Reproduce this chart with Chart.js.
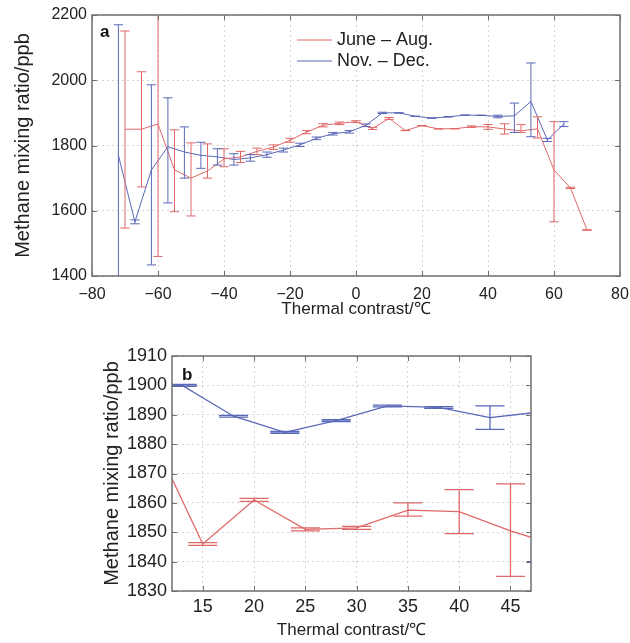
<!DOCTYPE html>
<html><head><meta charset="utf-8">
<script src="https://cdn.jsdelivr.net/npm/chart.js@4"></script>
<style>
html,body{margin:0;padding:0;background:#fff;width:630px;height:643px;overflow:hidden}
#ca{position:absolute;left:0;top:0}
#cb{position:absolute;left:0;top:325px}
</style></head><body>
<canvas id="ca" width="630" height="325"></canvas>
<canvas id="cb" width="630" height="318"></canvas>
<script>
// ---- data ----
const seriesNames = ['June \u2013 Aug.', 'Nov. \u2013 Dec.'];
const redX = [-70,-65,-60,-55,-50,-45,-40,-35,-30,-25,-20,-15,-10,-5,0,5,10,15,20,25,30,35,40,45,50,55,60,65,70];
const redY = [1850,1850,1866,1725,1700,1722,1759,1765,1782,1795,1816,1841,1862,1868,1873,1852,1883,1846,1861,1851,1851.5,1857.5,1857,1850.5,1845,1851,1725,1670,1541];
const redLo = [1547,1673,1460,1597,1584,1700,1735,1748,1772,1788,1810,1836,1857,1864,1870,1849,1880,1845.5,1860.5,1850.5,1851,1855.5,1849.5,1835,1840,1823,1566,1668,1540];
const redHi = [2151,2026,2210,1848,1808,1805,1790,1782,1792,1802,1822,1846,1867,1872,1876,1855,1886,1846.5,1861.5,1851.5,1852,1860,1864.5,1866.5,1864,1888,1873,1672,1542];
const blueX = [-72,-67,-62,-57,-52,-47,-42,-37,-32,-27,-22,-17,-12,-7,-2,3,8,13,18,23,28,33,38,43,48,53,58,63];
const blueY = [1770,1566,1725,1796,1780,1770,1765,1757,1762,1772,1786,1802,1822,1836,1842,1862,1900,1900,1889.5,1884,1888,1893,1892.5,1889,1891,1935,1817,1866];
const blueLo = [1300,1560,1434,1624,1700,1730,1740,1740,1752,1764,1780,1797,1818,1832,1838,1858,1898,1899.7,1889.2,1883.7,1887.7,1892.7,1892.2,1885,1840,1827,1812,1858];
const blueHi = [2170,1572,1986,1946,1857,1810,1790,1775,1772,1780,1792,1807,1826,1840,1846,1866,1902,1900.3,1889.8,1884.3,1888.3,1893.3,1892.8,1893,1930,2053,1822,1873];
const aXTicks = [-80,-60,-40,-20,0,20,40,60,80];
const aYTicks = [1400,1600,1800,2000,2200];
const bXTicks = [15,20,25,30,35,40,45];
const bYTicks = [1830,1840,1850,1860,1870,1880,1890,1900,1910];

const RED = '#e06868';
const BLUE = '#5a68b8';
const FRAME = '#6f6f6f';
const FONT = "'Liberation Sans', Arial, sans-serif";

function pts(xs, ys){ return xs.map((x,i)=>({x:x, y:ys[i]})); }
function fmt(v){ return v < 0 ? '\u2212' + Math.abs(v) : String(v); }

const errPlugin = {
  id: 'errbars',
  afterDatasetsDraw(chart, args, opts){
    const {ctx, chartArea:a, scales:{x, y}} = chart;
    ctx.save();
    ctx.beginPath(); ctx.rect(a.left, a.top, a.right-a.left, a.bottom-a.top); ctx.clip();
    (opts.sets||[]).forEach(s=>{
      ctx.strokeStyle = s.color; ctx.lineWidth = s.width || 1;
      s.x.forEach((xv,i)=>{
        const px = x.getPixelForValue(xv);
        const pl = x.getPixelForValue(xv - opts.cap), pr = x.getPixelForValue(xv + opts.cap);
        const y1 = y.getPixelForValue(s.lo[i]), y2 = y.getPixelForValue(s.hi[i]);
        ctx.beginPath();
        ctx.moveTo(px, y1); ctx.lineTo(px, y2);
        ctx.moveTo(pl, y1); ctx.lineTo(pr, y1);
        ctx.moveTo(pl, y2); ctx.lineTo(pr, y2);
        ctx.stroke();
      });
    });
    ctx.restore();
  }
};

const framePlugin = {
  id: 'frame',
  afterDraw(chart, args, opts){
    const {ctx, chartArea:a, scales:{x, y}} = chart;
    ctx.save();
    ctx.strokeStyle = FRAME; ctx.lineWidth = 1.5;
    ctx.strokeRect(a.left, a.top, a.right-a.left, a.bottom-a.top);
    ctx.lineWidth = 1;
    const L = 5;
    ctx.beginPath();
    x.ticks.forEach(t=>{ const p = Math.round(x.getPixelForValue(t.value))+0.5;
      ctx.moveTo(p, a.bottom); ctx.lineTo(p, a.bottom-L);
      ctx.moveTo(p, a.top); ctx.lineTo(p, a.top+L); });
    y.ticks.forEach(t=>{ const p = Math.round(y.getPixelForValue(t.value))+0.5;
      ctx.moveTo(a.left, p); ctx.lineTo(a.left+L, p);
      ctx.moveTo(a.right, p); ctx.lineTo(a.right-L, p); });
    ctx.stroke();
    // panel letter
    ctx.fillStyle = '#111';
    ctx.font = 'bold 17px ' + FONT;
    ctx.textBaseline = 'alphabetic'; ctx.textAlign = 'left';
    ctx.fillText(opts.letter, a.left + opts.lx, a.top + opts.ly);
    // legend
    if (opts.legend){
      ctx.font = '18px ' + FONT;
      ctx.textBaseline = 'middle';
      opts.legend.forEach(item=>{
        ctx.strokeStyle = item.color; ctx.lineWidth = 1;
        ctx.beginPath(); ctx.moveTo(item.x1, item.y); ctx.lineTo(item.x2, item.y); ctx.stroke();
        ctx.fillStyle = '#222';
        ctx.fillText(item.text, item.x2 + 5, item.y);
      });
    }
    ctx.restore();
  }
};

function makeChart(id, cfg){
  const gridOpts = {color:'#d4d4d4', lineWidth:1, drawTicks:false};
  return new Chart(document.getElementById(id), {
    type: 'line',
    data: { datasets: [
      {label: seriesNames[0], data: pts(redX, redY), borderColor: RED, borderWidth: cfg.lw, pointRadius: 0, tension: 0, fill:false},
      {label: seriesNames[1], data: pts(blueX, blueY), borderColor: BLUE, borderWidth: cfg.lw, pointRadius: 0, tension: 0, fill:false}
    ]},
    options: {
      responsive: false, animation: false, devicePixelRatio: 1,
      layout: {padding: cfg.pad},
      plugins: {
        legend: {display:false}, tooltip: {enabled:false},
        errbars: {cap: 1.42, sets: [
          {x: redX, lo: redLo, hi: redHi, color: RED, width: cfg.lw},
          {x: blueX, lo: blueLo, hi: blueHi, color: BLUE, width: cfg.lw}
        ]},
        frame: {letter: cfg.letter, lx: cfg.lx, ly: cfg.ly, legend: cfg.legend}
      },
      scales: {
        x: {type:'linear', min: cfg.xmin, max: cfg.xmax,
          grid: gridOpts, border: {display:false, dash:[2,3]},
          afterBuildTicks: s => { s.ticks = cfg.xt.map(v=>({value:v})); },
          afterFit: s => { s.height = cfg.xh; s.paddingLeft = 0; s.paddingRight = 0; },
          ticks: {color:'#222', font:{family:FONT, size:cfg.tf}, padding: cfg.xpad, maxRotation:0, autoSkip:false, callback: v => fmt(v)},
          title: {display:true, text:'Thermal contrast/\u2103', color:'#222', font:{family:FONT, size:17}, padding:{top:0, bottom:cfg.xtb}}
        },
        y: {type:'linear', min: cfg.ymin, max: cfg.ymax,
          grid: gridOpts, border: {display:false, dash:[2,3]},
          afterBuildTicks: s => { s.ticks = cfg.yt.map(v=>({value:v})); },
          afterFit: s => { s.width = cfg.yw; s.paddingTop = 0; s.paddingBottom = 0; },
          ticks: {color:'#222', font:{family:FONT, size:cfg.tf}, padding: 5, autoSkip:false, callback: v => fmt(v)},
          title: {display:true, text:'Methane mixing ratio/ppb', color:'#222', font:{family:FONT, size:20}, padding:{top:cfg.ytp, bottom:0}}
        }
      }
    },
    plugins: [errPlugin, framePlugin]
  });
}

makeChart('ca', {
  lw: 1, pad: {left:11, right:10, top:15, bottom:0},
  xmin:-80, xmax:80, ymin:1400, ymax:2200, xt: aXTicks, yt: aYTicks,
  xh: 49, yw: 81, tf: 16, xpad: 9, xtb: 5, ytp: 0,
  letter: 'a', lx: 8, ly: 22,
  legend: [
    {text: seriesNames[0], color: RED, x1: 297, x2: 332, y: 40},
    {text: seriesNames[1], color: BLUE, x1: 297, x2: 332, y: 61}
  ]
});

makeChart('cb', {
  lw: 1.3, pad: {left:99, right:99, top:31, bottom:0},
  xmin:12, xmax:47, ymin:1830, ymax:1910, xt: bXTicks, yt: bYTicks,
  xh: 52, yw: 73, tf: 18, xpad: 5, xtb: 2, ytp: 1,
  letter: 'b', lx: 10, ly: 24, legend: null
});
</script>
</body></html>
